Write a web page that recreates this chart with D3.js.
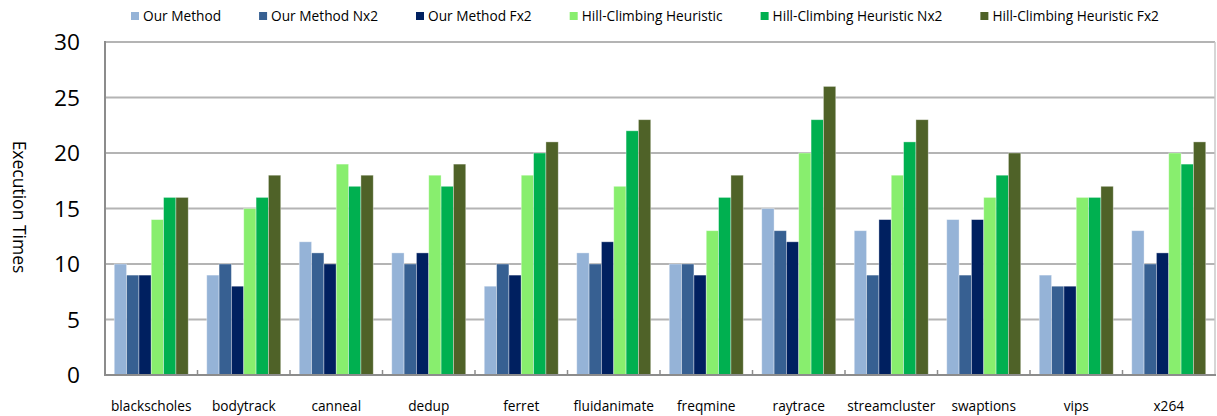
<!DOCTYPE html>
<html>
<head>
<meta charset="utf-8">
<script src="https://cdn.jsdelivr.net/npm/d3@7"></script>
<style>
  html, body { margin: 0; padding: 0; background: #fff; }
  svg text { font-family: "Open Sans", "Noto Sans", sans-serif; fill: #000; }
</style>
</head>
<body>
<svg id="chart" width="1217" height="416"></svg>
<script>
// Benchmarks (x categories)
const categories = ["blackscholes", "bodytrack", "canneal", "dedup", "ferret", "fluidanimate",
                    "freqmine", "raytrace", "streamcluster", "swaptions", "vips", "x264"];

// Series names, in legend order
const seriesNames = ["Our Method", "Our Method Nx2", "Our Method Fx2",
                     "Hill-Climbing Heuristic", "Hill-Climbing Heuristic Nx2", "Hill-Climbing Heuristic Fx2"];

// Execution times per series, one value per benchmark
const ourMethod    = [10, 9, 12, 11, 8, 11, 10, 15, 13, 14, 9, 13];
const ourMethodNx2 = [9, 10, 11, 10, 10, 10, 10, 13, 9, 9, 8, 10];
const ourMethodFx2 = [9, 8, 10, 11, 9, 12, 9, 12, 14, 14, 8, 11];
const hillClimb    = [14, 15, 19, 18, 18, 17, 13, 20, 18, 16, 16, 20];
const hillClimbNx2 = [16, 16, 17, 17, 20, 22, 16, 23, 21, 18, 16, 19];
const hillClimbFx2 = [16, 18, 18, 19, 21, 23, 18, 26, 23, 20, 17, 21];

// Y axis ticks
const yTicks = [0, 5, 10, 15, 20, 25, 30];

const seriesValues = [ourMethod, ourMethodNx2, ourMethodFx2, hillClimb, hillClimbNx2, hillClimbFx2];
const colors = ["#95B3D7", "#376092", "#002060", "#88EE6E", "#00B050", "#4F6228"];

const svg = d3.select("#chart");
const plot = { left: 105, right: 1215, top: 42, bottom: 375 };

const x = d3.scaleBand().domain(categories).range([plot.left, plot.right]).padding(0);
const xs = d3.scaleBand().domain(d3.range(seriesNames.length))
  .range([0, x.bandwidth()]).paddingInner(0).paddingOuter(0.75);
const y = d3.scaleLinear().domain([0, 30]).range([plot.bottom, plot.top]);

// Horizontal gridlines
svg.append("g")
  .selectAll("line")
  .data(yTicks.filter(d => d > 0))
  .join("line")
  .attr("x1", plot.left).attr("x2", plot.right)
  .attr("y1", d => y(d)).attr("y2", d => y(d))
  .attr("stroke", "#b4b4b4").attr("stroke-width", 2);

// Right border of plot area
svg.append("line")
  .attr("x1", plot.right).attr("x2", plot.right)
  .attr("y1", plot.top).attr("y2", plot.bottom)
  .attr("stroke", "#c8c8c8").attr("stroke-width", 1.5);

// Bars
const rows = categories.map((c, i) => ({ cat: c, vals: seriesValues.map(s => s[i]) }));
const groups = svg.append("g").selectAll("g")
  .data(rows)
  .join("g")
  .attr("transform", d => `translate(${x(d.cat)},0)`);

groups.selectAll("rect")
  .data(d => d.vals.map((v, k) => ({ k, v })))
  .join("rect")
  .attr("x", d => xs(d.k))
  .attr("width", xs.bandwidth())
  .attr("y", d => y(d.v))
  .attr("height", d => y(0) - y(d.v))
  .attr("fill", d => colors[d.k])
  .attr("stroke", "#ffffff")
  .attr("stroke-opacity", 0.45)
  .attr("stroke-width", 0.8);

// Left axis line
svg.append("line")
  .attr("x1", plot.left).attr("x2", plot.left)
  .attr("y1", plot.top - 1).attr("y2", plot.bottom + 1)
  .attr("stroke", "#8c8c8c").attr("stroke-width", 2);

// Bottom axis with inside tick marks at category boundaries
const xAxis = svg.append("g").attr("transform", `translate(0,${plot.bottom})`);
xAxis.append("line")
  .attr("x1", plot.left - 1).attr("x2", plot.right + 1)
  .attr("stroke", "#8c8c8c").attr("stroke-width", 2);
xAxis.selectAll("line.tick")
  .data(categories.slice(1))
  .join("line")
  .attr("class", "tick")
  .attr("x1", d => x(d)).attr("x2", d => x(d))
  .attr("y1", 0).attr("y2", -5)
  .attr("stroke", "#8c8c8c").attr("stroke-width", 1.5);

// Category labels
svg.append("g").selectAll("text")
  .data(categories)
  .join("text")
  .attr("x", d => x(d) + x.bandwidth() / 2)
  .attr("y", 411)
  .attr("text-anchor", "middle")
  .attr("font-size", "13.7px")
  .text(d => d);

// Y tick labels
svg.append("g").selectAll("text")
  .data(yTicks)
  .join("text")
  .attr("x", 80)
  .attr("y", d => y(d))
  .attr("dy", "0.36em")
  .attr("text-anchor", "end")
  .attr("font-size", "22.7px")
  .text(d => d);

// Y axis title
svg.append("text")
  .attr("transform", "translate(13,207) rotate(90)")
  .attr("text-anchor", "middle")
  .attr("font-size", "17.5px")
  .text("Execution Times");

// Legend
const legend = svg.append("g");
let lx = 131;
seriesNames.forEach((name, k) => {
  legend.append("rect")
    .attr("x", lx).attr("y", 12)
    .attr("width", 8).attr("height", 8)
    .attr("fill", colors[k]);
  const t = legend.append("text")
    .attr("x", lx + 12).attr("y", 21)
    .attr("font-size", "13.7px")
    .text(name);
  lx += 12 + t.node().getComputedTextLength() + 38;
});
</script>
</body>
</html>
